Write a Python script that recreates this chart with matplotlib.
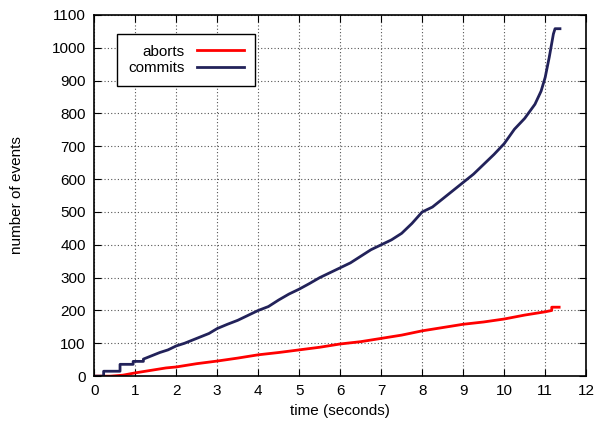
import matplotlib.pyplot as plt
import numpy as np

plt.rcParams['font.family'] = ['Liberation Sans', 'DejaVu Sans']

# commits curve (time in seconds, cumulative count)
commit_t = [0.0, 0.23, 0.23, 0.63, 0.63, 0.95, 0.95, 1.2, 1.2, 1.4, 1.6, 1.8, 2.0,
            2.2, 2.4, 2.6, 2.8, 3.0, 3.25, 3.5, 3.75, 4.0, 4.25, 4.5, 4.75, 5.0,
            5.25, 5.5, 5.75, 6.0, 6.25, 6.5, 6.75, 7.0, 7.25, 7.5, 7.75, 8.0, 8.25,
            8.5, 8.75, 9.0, 9.25, 9.5, 9.75, 10.0, 10.25, 10.5, 10.75, 10.9, 11.0,
            11.1, 11.2, 11.24, 11.36]
commit_n = [0, 0, 15, 15, 36, 36, 45, 45, 52, 62, 72, 80, 92,
            100, 110, 120, 130, 145, 158, 170, 185, 200, 212, 232, 250, 265,
            282, 300, 315, 330, 345, 365, 385, 400, 415, 435, 465, 500, 515,
            540, 565, 590, 615, 645, 675, 708, 752, 785, 828, 868, 910,
            972, 1042, 1058, 1058]

# aborts curve
abort_t = [0.0, 0.4, 0.7, 1.0, 1.25, 1.5, 1.75, 2.0, 2.25, 2.5, 2.75, 3.0, 3.5, 4.0,
           4.5, 5.0, 5.5, 6.0, 6.5, 7.0, 7.5, 8.0, 8.5, 9.0, 9.5, 10.0, 10.5, 11.0,
           11.16, 11.16, 11.34]
abort_n = [0, 0, 3, 10, 15, 20, 25, 28, 33, 38, 42, 46, 55, 65,
           72, 80, 88, 98, 105, 115, 125, 138, 148, 158, 165, 174, 186, 196,
           200, 210, 210]

fig = plt.figure(figsize=(6, 4.26), dpi=100)
ax = fig.add_axes([0.157, 0.117, 0.82, 0.848])

ax.plot(abort_t, abort_n, color='#ff0000', linewidth=2, label='aborts')
ax.plot(commit_t, commit_n, color='#22225a', linewidth=2, label='commits')

ax.set_xlim(0, 12)
ax.set_ylim(0, 1100)
ax.set_xticks(range(0, 13))
ax.set_yticks(range(0, 1101, 100))
ax.grid(True, color='#555555', linestyle=(0, (1, 2)), linewidth=0.8)
ax.tick_params(direction='in', top=True, right=True, labelsize=11, length=5, pad=6)
for s in ax.spines.values():
    s.set_linewidth(1.2)

ax.set_xlabel('time (seconds)', fontsize=11, labelpad=4)
ax.set_ylabel('number of events', fontsize=11, labelpad=20)

leg = ax.legend(loc='upper left', bbox_to_anchor=(0.047, 0.947), markerfirst=False,
                fancybox=False, edgecolor='black', framealpha=1, fontsize=11,
                handlelength=3.1, handletextpad=0.8, borderpad=0.7, labelspacing=0.15,
                borderaxespad=0)
leg.get_frame().set_linewidth(1.0)
for t in leg.get_texts():
    t.set_ha('right')

plt.savefig('out.png', facecolor='white')
